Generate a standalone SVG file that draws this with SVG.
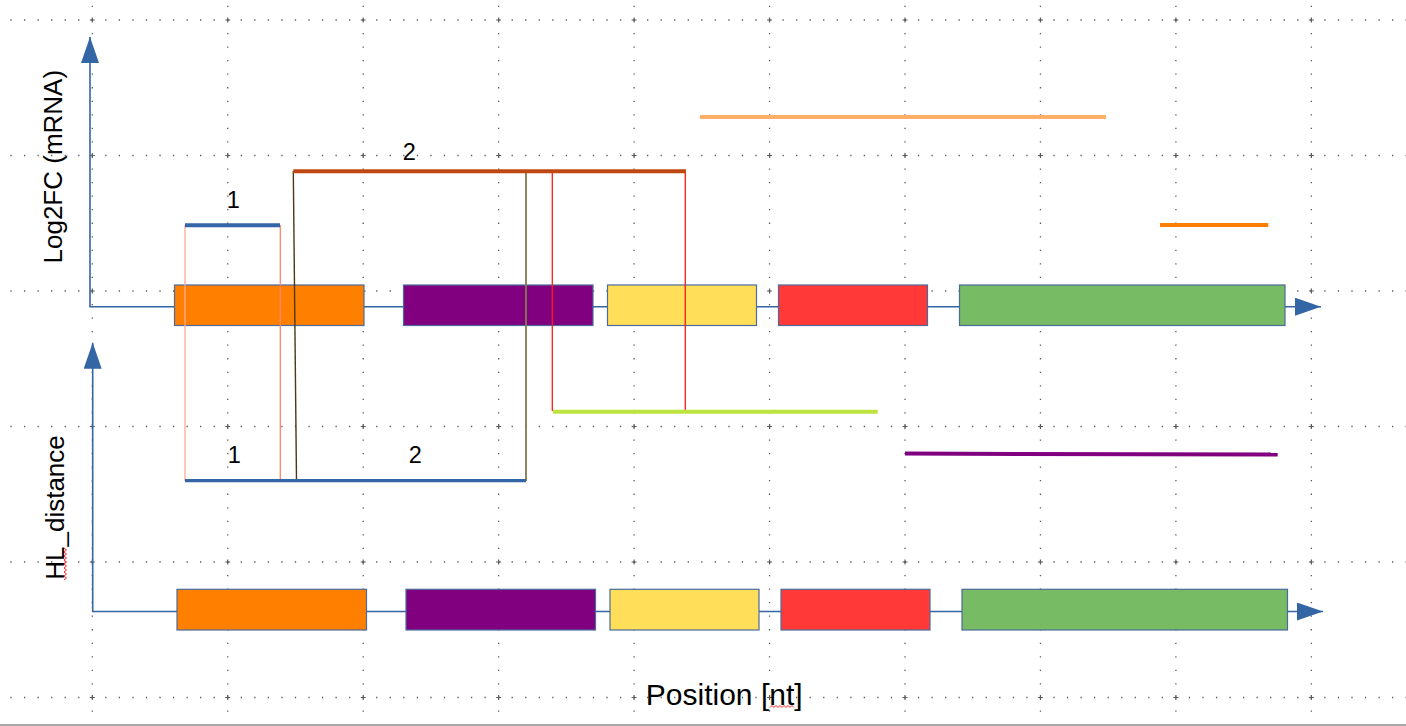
<svg xmlns="http://www.w3.org/2000/svg" xmlns:xlink="http://www.w3.org/1999/xlink" width="1406" height="726" viewBox="0 0 1406 726">
<style>
.gh{stroke:#5a5a5a;stroke-width:1.3;stroke-dasharray:1.3 12.245;fill:none}
.gv{stroke:#5a5a5a;stroke-width:1.3;stroke-dasharray:1.3 12.25;fill:none}
.axis{stroke:#3465a4;stroke-width:1.6;fill:none;marker-start:url(#arr);marker-end:url(#arr)}
.box{stroke:#4b6b9b;stroke-width:1.2}
.lbl{font-family:"Liberation Sans",Arial,sans-serif;fill:#000}
.seg{fill:none;stroke-width:4}
.thin{fill:none}
.sq{fill:none;stroke:#ff2020;stroke-width:1}
</style>
<defs>
<marker id="arr" markerUnits="userSpaceOnUse" markerWidth="27" markerHeight="19" refX="26" refY="9" orient="auto-start-reverse" viewBox="0 0 27 19">
<path d="M0,0 L26,9 L0,18 z" fill="#3465a4"/>
</marker>
<path id="plus" d="M-2.5,0 H2.5 M0,-2.5 V2.5" stroke="#5a5a5a" stroke-width="1.2"/>
</defs>
<rect width="1406" height="726" fill="#ffffff"/>
<g id="grid">
<path class="gh" d="M10.4,20 H1406 M10.4,155.5 H1406 M10.4,291 H1406 M10.4,426.5 H1406 M10.4,562 H1406 M10.4,697.5 H1406"/>
<path class="gv" d="M92.3,5.8 V726 M227.75,5.8 V726 M363.2,5.8 V726 M498.65,5.8 V726 M634.1,5.8 V726 M769.55,5.8 V726 M905,5.8 V726 M1040.45,5.8 V726 M1175.9,5.8 V726 M1311.35,5.8 V726"/>
<g id="crosses">
<use xlink:href="#plus" x="92.3" y="20"/><use xlink:href="#plus" x="227.75" y="20"/><use xlink:href="#plus" x="363.2" y="20"/><use xlink:href="#plus" x="498.65" y="20"/><use xlink:href="#plus" x="634.1" y="20"/><use xlink:href="#plus" x="769.55" y="20"/><use xlink:href="#plus" x="905" y="20"/><use xlink:href="#plus" x="1040.45" y="20"/><use xlink:href="#plus" x="1175.9" y="20"/><use xlink:href="#plus" x="1311.35" y="20"/>
<use xlink:href="#plus" x="92.3" y="155.5"/><use xlink:href="#plus" x="227.75" y="155.5"/><use xlink:href="#plus" x="363.2" y="155.5"/><use xlink:href="#plus" x="498.65" y="155.5"/><use xlink:href="#plus" x="634.1" y="155.5"/><use xlink:href="#plus" x="769.55" y="155.5"/><use xlink:href="#plus" x="905" y="155.5"/><use xlink:href="#plus" x="1040.45" y="155.5"/><use xlink:href="#plus" x="1175.9" y="155.5"/><use xlink:href="#plus" x="1311.35" y="155.5"/>
<use xlink:href="#plus" x="92.3" y="291"/><use xlink:href="#plus" x="227.75" y="291"/><use xlink:href="#plus" x="363.2" y="291"/><use xlink:href="#plus" x="498.65" y="291"/><use xlink:href="#plus" x="634.1" y="291"/><use xlink:href="#plus" x="769.55" y="291"/><use xlink:href="#plus" x="905" y="291"/><use xlink:href="#plus" x="1040.45" y="291"/><use xlink:href="#plus" x="1175.9" y="291"/><use xlink:href="#plus" x="1311.35" y="291"/>
<use xlink:href="#plus" x="92.3" y="426.5"/><use xlink:href="#plus" x="227.75" y="426.5"/><use xlink:href="#plus" x="363.2" y="426.5"/><use xlink:href="#plus" x="498.65" y="426.5"/><use xlink:href="#plus" x="634.1" y="426.5"/><use xlink:href="#plus" x="769.55" y="426.5"/><use xlink:href="#plus" x="905" y="426.5"/><use xlink:href="#plus" x="1040.45" y="426.5"/><use xlink:href="#plus" x="1175.9" y="426.5"/><use xlink:href="#plus" x="1311.35" y="426.5"/>
<use xlink:href="#plus" x="92.3" y="562"/><use xlink:href="#plus" x="227.75" y="562"/><use xlink:href="#plus" x="363.2" y="562"/><use xlink:href="#plus" x="498.65" y="562"/><use xlink:href="#plus" x="634.1" y="562"/><use xlink:href="#plus" x="769.55" y="562"/><use xlink:href="#plus" x="905" y="562"/><use xlink:href="#plus" x="1040.45" y="562"/><use xlink:href="#plus" x="1175.9" y="562"/><use xlink:href="#plus" x="1311.35" y="562"/>
<use xlink:href="#plus" x="92.3" y="697.5"/><use xlink:href="#plus" x="227.75" y="697.5"/><use xlink:href="#plus" x="363.2" y="697.5"/><use xlink:href="#plus" x="498.65" y="697.5"/><use xlink:href="#plus" x="634.1" y="697.5"/><use xlink:href="#plus" x="769.55" y="697.5"/><use xlink:href="#plus" x="905" y="697.5"/><use xlink:href="#plus" x="1040.45" y="697.5"/><use xlink:href="#plus" x="1175.9" y="697.5"/><use xlink:href="#plus" x="1311.35" y="697.5"/>
</g>
</g>
<rect x="0" y="724" width="1406" height="2" fill="#a8a8a8"/>
<g id="connectors">
<path id="axis-top" class="axis" d="M90,37 V306.7 H1321"/>
<path id="axis-bottom" class="axis" d="M92.7,342.7 V611.5 H1323"/>
</g>
<g id="row-top">
<rect id="t-orange" class="box" x="174.5" y="285" width="189.5" height="40.5" fill="#ff8000"/>
<rect id="t-purple" class="box" x="403.5" y="285" width="189.5" height="40.5" fill="#800080"/>
<rect id="t-yellow" class="box" x="607.5" y="285" width="149" height="40.5" fill="#ffde59"/>
<rect id="t-red" class="box" x="778.5" y="285" width="149" height="40.5" fill="#ff3838"/>
<rect id="t-green" class="box" x="959.5" y="285" width="325.5" height="40.5" fill="#77bc65"/>
</g>
<g id="row-bottom">
<rect id="b-orange" class="box" x="177" y="589.3" width="189.5" height="40.7" fill="#ff8000"/>
<rect id="b-purple" class="box" x="406" y="589.3" width="189.5" height="40.7" fill="#800080"/>
<rect id="b-yellow" class="box" x="610" y="589.3" width="149" height="40.7" fill="#ffde59"/>
<rect id="b-red" class="box" x="781" y="589.3" width="149" height="40.7" fill="#ff3838"/>
<rect id="b-green" class="box" x="962" y="589.3" width="325.5" height="40.7" fill="#77bc65"/>
</g>
<g id="segments">
<line class="thin" x1="185" y1="225" x2="185" y2="481" stroke="#ffa896" stroke-width="1.3"/>
<line class="thin" x1="280.3" y1="225" x2="280.3" y2="481" stroke="#ff8468" stroke-width="1.3"/>
<line class="thin" x1="293.3" y1="171" x2="296.5" y2="481" stroke="#4a3a16" stroke-width="1.4"/>
<line class="thin" x1="526" y1="171" x2="526" y2="481" stroke="#857850" stroke-width="1.8"/>
<line class="thin" x1="552.3" y1="171" x2="552.3" y2="411" stroke="#ff1a1a" stroke-width="1.3"/>
<line class="thin" x1="685.3" y1="171" x2="685.3" y2="411" stroke="#ff1a1a" stroke-width="1.3"/>
<line id="seg-1-top" class="seg" x1="185" y1="225.3" x2="280" y2="225.3" stroke="#3465a4"/>
<line id="seg-2-top" class="seg" x1="293.3" y1="171.3" x2="686" y2="171.3" stroke="#bf4810"/>
<line id="seg-lightorange" class="seg" x1="700" y1="117" x2="1106" y2="117" stroke="#ffb066"/>
<line id="seg-orange" class="seg" x1="1160" y1="225" x2="1268.3" y2="225" stroke="#ff8000"/>
<line id="seg-lime" class="seg" x1="553" y1="411.7" x2="877.7" y2="411.7" stroke="#bde33f"/>
<line id="seg-purple" class="seg" x1="905" y1="453.6" x2="1277.7" y2="454.6" stroke="#800080"/>
<line id="seg-bottom" x1="185" y1="480.7" x2="526" y2="480.7" stroke="#3465a4" stroke-width="3.2"/>
</g>
<g id="labels">
<text class="lbl" x="233.3" y="208.3" font-size="23.5" text-anchor="middle">1</text>
<text class="lbl" x="409.3" y="160" font-size="23.5" text-anchor="middle">2</text>
<text class="lbl" x="234.3" y="463.3" font-size="23.5" text-anchor="middle">1</text>
<text class="lbl" x="415.3" y="463.3" font-size="23.5" text-anchor="middle">2</text>
<text class="lbl" transform="translate(61.7,166.7) rotate(-90)" font-size="26" text-anchor="middle">Log2FC (mRNA)</text>
<text class="lbl" transform="translate(63.5,507.5) rotate(-90)" font-size="26" text-anchor="middle">HL_distance</text>
<text class="lbl" x="724.2" y="704.5" font-size="30" text-anchor="middle">Position [nt]</text>
<polyline class="sq" points="64,548 66.5,550 64,552 66.5,554 64,556 66.5,558 64,560 66.5,562 64,564 66.5,566 64,568 66.5,570 64,572 66.5,574 64,576 66.5,578 64,580"/>
<polyline class="sq" points="770,707.5 772,705.5 774,707.5 776,705.5 778,707.5 780,705.5 782,707.5 784,705.5 786,707.5 788,705.5 790,707.5 792,705.5 794,707.5"/>
</g>
</svg>
